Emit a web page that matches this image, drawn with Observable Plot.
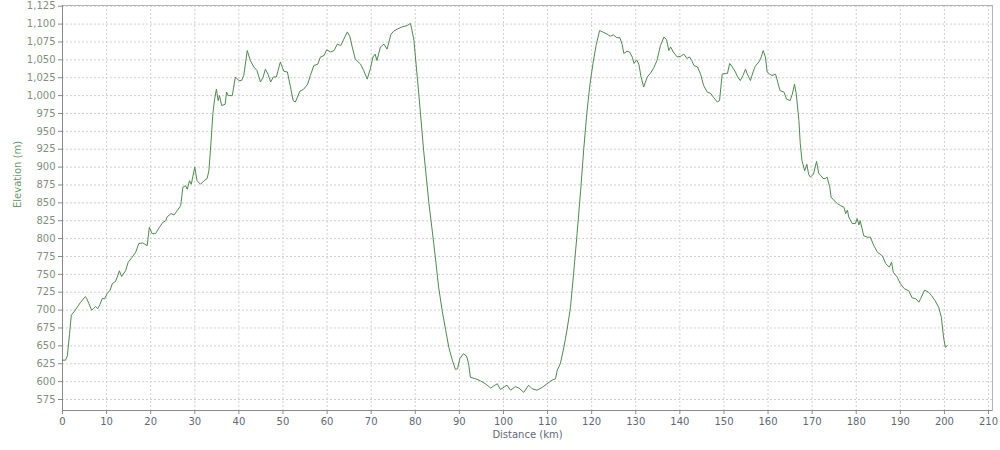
<!DOCTYPE html>
<html>
<head>
<meta charset="utf-8">
<script src="https://cdn.jsdelivr.net/npm/d3@7"></script>
<script src="https://cdn.jsdelivr.net/npm/@observablehq/plot@0.6"></script>
<style>
  html, body { margin: 0; padding: 0; background: #fff; }
  #chart { width: 1000px; height: 450px; }
</style>
</head>
<body>
<div id="chart"></div>
<script>
// Distance (km) along the route
const distanceKm = [
  0, 0.7, 1.1, 1.6, 2.0, 2.9, 4.1, 5.2, 5.5, 6.0, 6.6, 7.0, 7.5, 8.0, 8.5, 9.0, 9.6, 10.1, 10.8, 11.3,
  12.0, 12.4, 12.9, 13.4, 14.3, 14.9, 15.8, 16.6, 17.3, 18.2, 19.2, 19.7, 20.3, 21.1, 22.0, 22.8, 23.4, 23.7, 24.6, 25.3,
  26.0, 26.8, 27.3, 27.9, 28.3, 28.8, 29.2, 30.0, 30.5, 31.3, 32.1, 32.8, 33.2, 33.6, 34.1, 34.5, 34.9, 35.3, 35.6, 36.1,
  36.9, 37.2, 37.6, 38.5, 39.2, 40.0, 40.6, 41.1, 41.9, 42.6, 43.4, 44.1, 44.9, 45.5, 46.0, 46.6, 47.2, 47.8, 48.5, 49.4,
  50.2, 51.0, 51.7, 52.3, 52.8, 53.3, 53.8, 54.7, 55.6, 56.2, 57.0, 57.9, 58.5, 59.3, 59.9, 60.8, 61.6, 62.3, 63.1, 63.8,
  64.6, 65.2, 65.7, 66.4, 67.6, 68.3, 69.1, 69.8, 70.4, 70.9, 71.3, 72.1, 72.9, 73.6, 74.5, 75.1, 75.9, 77.0, 78.2, 78.9,
  79.2, 79.7, 80.8, 81.9, 83.1, 84.2, 85.3, 86.1, 86.9, 87.6, 88.4, 89.1, 89.6, 90.1, 90.9, 91.6, 92.1, 92.5, 93.7, 94.8,
  95.9, 97.1, 97.8, 98.6, 99.3, 100.3, 100.8, 101.6, 102.7, 103.5, 104.6, 105.7, 106.5, 107.6, 108.8, 109.9, 111.0, 111.8, 112.2, 112.9,
  113.7, 114.4, 115.2, 115.9, 116.7, 117.5, 118.2, 118.9, 119.6, 120.3, 121.0, 121.8, 122.5, 123.5, 124.2, 124.9, 125.7, 126.4, 126.9, 127.3,
  128.0, 128.6, 129.2, 129.6, 130.2, 130.7, 131.2, 131.8, 132.6, 133.3, 134.1, 134.8, 135.6, 136.4, 137.0, 137.5, 137.9, 138.5, 139.4, 140.2,
  140.9, 141.6, 142.2, 142.7, 143.2, 144.0, 144.7, 145.4, 146.2, 147.0, 147.7, 148.5, 149.0, 149.6, 150.3, 150.8, 151.3, 151.9, 152.6, 153.1,
  153.7, 154.3, 154.9, 155.3, 156.0, 156.6, 157.1, 157.9, 158.3, 158.9, 159.4, 159.8, 160.4, 160.9, 161.7, 162.2, 162.7, 163.6, 164.2, 165.0,
  165.5, 166.0, 166.4, 167.0, 167.3, 167.7, 168.3, 168.8, 169.2, 169.6, 170.3, 171.0, 171.5, 172.0, 172.5, 173.0, 173.4, 174.0, 174.3, 175.0,
  175.7, 176.5, 177.2, 177.6, 178.0, 178.3, 179.1, 179.8, 180.2, 180.6, 180.9, 181.7, 182.5, 183.2, 184.0, 184.8, 185.9, 186.7, 187.5, 188.0,
  188.4, 189.3, 190.0, 190.9, 191.9, 192.7, 193.5, 194.2, 194.6, 195.5, 196.4, 197.1, 197.9, 198.7, 199.3, 199.8, 200.2, 200.6
];
// Elevation (m) at each distance
const elevationM = [
  630, 630, 636, 667, 693, 700, 711, 719, 716, 709, 700, 702, 705, 702, 708, 716, 716, 723, 728, 737,
  740, 746, 755, 747, 755, 767, 774, 781, 793, 794, 790, 816, 807, 807, 816, 823, 825, 830, 835, 833,
  839, 846, 872, 874, 869, 881, 876, 900, 881, 876, 881, 884, 895, 928, 975, 995, 1009, 993, 1000, 986,
  988, 1005, 1000, 1000, 1026, 1021, 1021, 1028, 1063, 1049, 1040, 1035, 1019, 1026, 1037, 1030, 1019, 1026, 1026, 1047,
  1034, 1033, 1012, 993, 991, 998, 1006, 1009, 1016, 1028, 1042, 1044, 1054, 1056, 1064, 1061, 1063, 1072, 1070, 1079,
  1089, 1082, 1068, 1051, 1044, 1035, 1023, 1037, 1054, 1058, 1049, 1068, 1072, 1065, 1086, 1090, 1093, 1096, 1098, 1101,
  1093, 1077, 1002, 923, 849, 793, 732, 699, 672, 648, 630, 617, 618, 632, 639, 636, 625, 606, 604, 601,
  597, 591, 594, 597, 589, 593, 595, 588, 593, 591, 585, 595, 590, 588, 592, 597, 602, 604, 616, 625,
  648, 672, 704, 751, 807, 867, 925, 975, 1015, 1045, 1070, 1091, 1089, 1086, 1083, 1085, 1081, 1081, 1072, 1059,
  1062, 1061, 1054, 1045, 1050, 1044, 1026, 1012, 1026, 1031, 1039, 1049, 1070, 1082, 1078, 1063, 1068, 1061, 1054, 1055,
  1058, 1052, 1054, 1049, 1042, 1040, 1030, 1014, 1005, 1003, 997, 991, 993, 1030, 1031, 1031, 1045, 1040, 1033, 1026,
  1021, 1028, 1037, 1030, 1021, 1033, 1041, 1047, 1051, 1063, 1054, 1033, 1030, 1028, 1030, 1019, 1007, 1005, 995, 993,
  1002, 1016, 1002, 965, 933, 909, 895, 904, 890, 886, 890, 908, 891, 888, 884, 884, 886, 872, 858, 853,
  849, 846, 844, 835, 840, 830, 821, 821, 828, 819, 825, 804, 802, 802, 790, 781, 776, 765, 760, 767,
  753, 746, 737, 730, 727, 717, 716, 711, 716, 728, 725, 720, 713, 704, 690, 662, 648, 650
];
// Tick values
const xTicks = d3.range(0, 211, 10);
const yTicks = d3.range(575, 1126, 25);
const xDomain = [0, 210.9];
const yDomain = [559.6, 1126];

const data = distanceKm.map((d, i) => ({km: d, m: elevationM[i]}));

const chart = Plot.plot({
  width: 1000,
  height: 450,
  marginLeft: 62,
  marginRight: 8,
  marginTop: 5,
  marginBottom: 40,
  style: {fontFamily: "DejaVu Sans", fontSize: "10px", background: "#fff"},
  x: {domain: xDomain},
  y: {domain: yDomain},
  marks: [
    Plot.gridX(xTicks, {stroke: "#d0d0d0", strokeOpacity: 1, strokeDasharray: "2,2"}),
    Plot.gridY(yTicks, {stroke: "#d0d0d0", strokeOpacity: 1, strokeDasharray: "2,2"}),
    Plot.frame({stroke: "#b4b4b4"}),
    Plot.ruleX([xDomain[0]], {stroke: "#8a8a8a"}),
    Plot.ruleY([yDomain[0]], {stroke: "#8a8a8a"}),
    Plot.axisX(xTicks, {tickSize: 4, tickPadding: 3, stroke: "#8a8a8a", fill: "#5f6878", label: null}),
    Plot.axisY(yTicks, {tickSize: 4, tickPadding: 3, stroke: "#8a8a8a", fill: "#7f8f80", tickFormat: d3.format(","), label: null}),
    Plot.text(["Distance (km)"], {frameAnchor: "bottom", dy: 27, fill: "#5f6878", fontSize: 10}),
    Plot.text(["Elevation (m)"], {frameAnchor: "left", dx: -45, rotate: -90, fill: "#6a9a6a", fontSize: 10}),
    Plot.line(data, {x: "km", y: "m", stroke: "#4f8a4f", strokeWidth: 1})
  ]
});
document.getElementById("chart").appendChild(chart);
</script>
</body>
</html>
